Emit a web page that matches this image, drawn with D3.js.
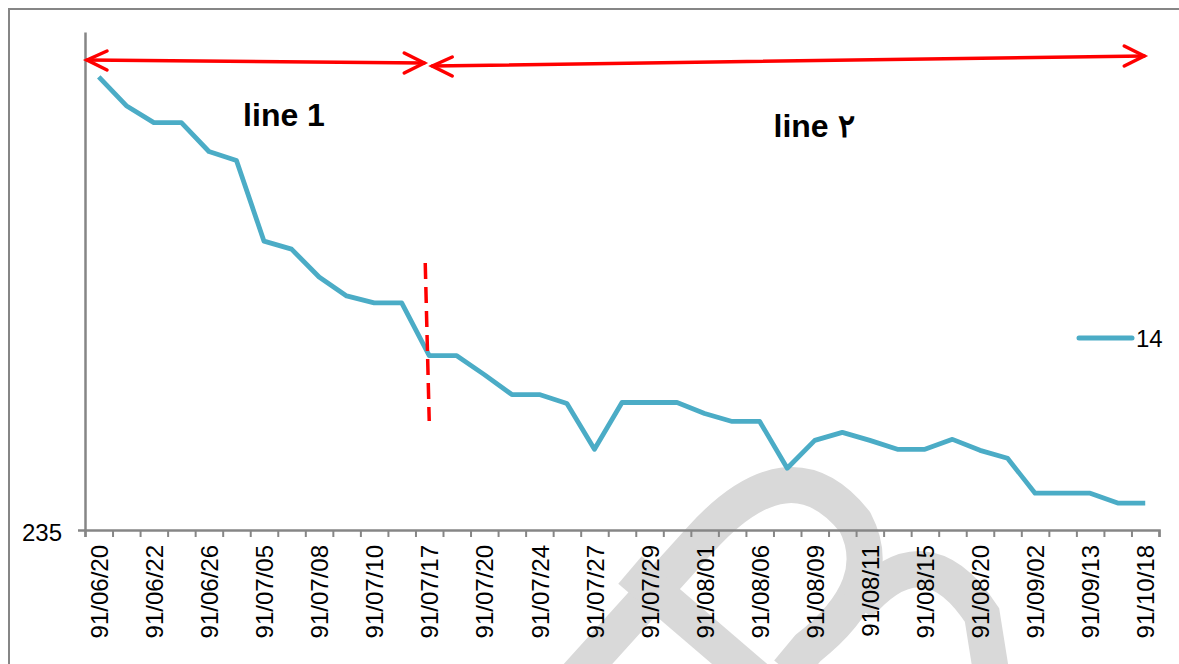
<!DOCTYPE html>
<html>
<head>
<meta charset="utf-8">
<script src="https://cdn.jsdelivr.net/npm/d3@7/dist/d3.min.js"></script>
<style>
  html, body { margin: 0; padding: 0; background: #fff; }
  svg { display: block; }
</style>
</head>
<body>
<svg id="chart" width="1179" height="664"></svg>
<script>
// Series "14": one value per trading day (39 days)
const values = [
  280.5, 277.6, 275.9, 275.9, 273.0, 272.1, 264.0, 263.2, 260.4, 258.5,
  257.8, 257.8, 252.5, 252.5, 250.6, 248.6, 248.6, 247.7, 243.1, 247.8,
  247.8, 247.8, 246.7, 245.9, 245.9, 241.2, 244.0, 244.8, 244.0, 243.1,
  243.1, 244.1, 243.0, 242.2, 238.7, 238.7, 238.7, 237.7, 237.7
];
// Date labels, shown on every second day
const tickLabels = [
  "91/06/20", "91/06/22", "91/06/26", "91/07/05", "91/07/08",
  "91/07/10", "91/07/17", "91/07/20", "91/07/24", "91/07/27",
  "91/07/29", "91/08/01", "91/08/06", "91/08/09", "91/08/11",
  "91/08/15", "91/08/20", "91/09/02", "91/09/13", "91/10/18"
];
const yTicks = [235];
const yDomain = [235, 285];
const seriesName = "14";
const segmentLabels = ["line 1", "line \u06F2"];
const breakIndex = 12;

(function draw() {
  const svg = d3.select("#chart");
  const plotLeft = 85, plotRight = 1159, plotTop = 32, plotBottom = 530;
  const axisColor = "#868686";
  const lineColor = "#4BACC6";
  const red = "#FF0000";
  const font = "'Liberation Sans', Arial, sans-serif";

  const n = values.length;
  const x = d3.scaleLinear().domain([0, n]).range([plotLeft, plotRight]);
  const y = d3.scaleLinear().domain(yDomain).range([plotBottom, plotTop]);
  const cx = i => x(i + 0.5);

  // outer frame
  svg.append("rect")
    .attr("x", 9).attr("y", 9).attr("width", 1200).attr("height", 700)
    .attr("fill", "none").attr("stroke", axisColor).attr("stroke-width", 2);

  // faint background emblem
  const wm = svg.append("g").attr("fill", "none").attr("stroke", "#d9d9d9")
    .attr("stroke-width", 36).attr("stroke-linecap", "butt");
  wm.append("path").attr("d", "M560,695 L700,540 Q790,440 855,522 Q888,585 808,648 L788,672");
  wm.append("path").attr("d", "M630,570 L770,690");
  wm.append("path").attr("d", "M858,606 Q925,528 982,615 L994,690");

  // x axis: boundary ticks
  const xAxisG = svg.append("g").attr("transform", `translate(0,${plotBottom})`);
  xAxisG.call(d3.axisBottom(x).tickValues(d3.range(n + 1)).tickSize(7).tickFormat(""));
  xAxisG.select(".domain").attr("stroke", axisColor).attr("stroke-width", 2.5);
  xAxisG.selectAll(".tick line").attr("stroke", axisColor).attr("stroke-width", 2);

  // x axis: rotated date labels at every second day
  const labelAxis = d3.axisBottom(x)
    .tickValues(tickLabels.map((_, k) => 2 * k + 0.5))
    .tickSize(0)
    .tickFormat((d, k) => tickLabels[k]);
  const labG = svg.append("g").attr("transform", `translate(0,${plotBottom})`).call(labelAxis);
  labG.select(".domain").remove();
  labG.selectAll("text")
    .attr("transform", "rotate(-90)")
    .attr("x", -15).attr("y", 0).attr("dy", "0.36em")
    .attr("text-anchor", "end")
    .attr("fill", "#000")
    .style("font-family", font).style("font-size", "24px");

  // y axis
  const yAxisG = svg.append("g").attr("transform", `translate(${plotLeft},0)`)
    .call(d3.axisLeft(y).tickValues(yTicks).tickSize(7).tickPadding(16).tickSizeOuter(0));
  yAxisG.select(".domain").attr("stroke", axisColor).attr("stroke-width", 2.5);
  yAxisG.selectAll(".tick line").attr("stroke", axisColor).attr("stroke-width", 2.5);
  yAxisG.selectAll(".tick text")
    .attr("fill", "#000").attr("dy", "0.45em")
    .style("font-family", font).style("font-size", "24px");

  // data line
  const line = d3.line().x((d, i) => cx(i)).y(d => y(d));
  svg.append("path").datum(values)
    .attr("d", line)
    .attr("fill", "none")
    .attr("stroke", lineColor)
    .attr("stroke-width", 4.8)
    .attr("stroke-linejoin", "round");

  // legend
  const lg = svg.append("g").attr("transform", "translate(1079,338)");
  lg.append("line").attr("x1", 0).attr("x2", 53).attr("y1", 0).attr("y2", 0)
    .attr("stroke", lineColor).attr("stroke-width", 5).attr("stroke-linecap", "round");
  lg.append("text").attr("x", 57).attr("y", 0).attr("dy", "0.36em")
    .attr("fill", "#000").style("font-family", font).style("font-size", "24px")
    .text(seriesName);

  // red annotations: range arrows and break marker
  const ann = svg.append("g").attr("stroke", red).attr("fill", "none")
    .attr("stroke-width", 3.5).attr("stroke-linecap", "round").attr("stroke-linejoin", "miter");

  function doubleArrow(x1, y1, x2, y2) {
    ann.append("line").attr("x1", x1).attr("y1", y1).attr("x2", x2).attr("y2", y2);
    ann.append("path").attr("d", `M${x1 + 20},${y1 - 9} L${x1},${y1} L${x1 + 20},${y1 + 10}`);
    ann.append("path").attr("d", `M${x2 - 20},${y2 - 10} L${x2},${y2} L${x2 - 20},${y2 + 10}`);
  }
  const breakX = cx(breakIndex) - 3;
  doubleArrow(plotLeft + 2, 60, breakX - 2, 63);
  doubleArrow(breakX + 6, 66, cx(n - 1) - 1, 56);

  ann.append("line")
    .attr("x1", breakX - 1).attr("y1", 263)
    .attr("x2", breakX + 3).attr("y2", 421)
    .attr("stroke-linecap", "butt")
    .attr("stroke-dasharray", "16,8");

  // segment titles
  svg.append("text").attr("x", 284).attr("y", 126).attr("text-anchor", "middle")
    .style("font-family", font).style("font-size", "32px").style("font-weight", "bold")
    .attr("fill", "#000").text(segmentLabels[0]);
  svg.append("text").attr("x", 814).attr("y", 137).attr("text-anchor", "middle")
    .style("font-family", font).style("font-size", "32px").style("font-weight", "bold")
    .attr("fill", "#000").text(segmentLabels[1]);
})();
</script>
</body>
</html>
